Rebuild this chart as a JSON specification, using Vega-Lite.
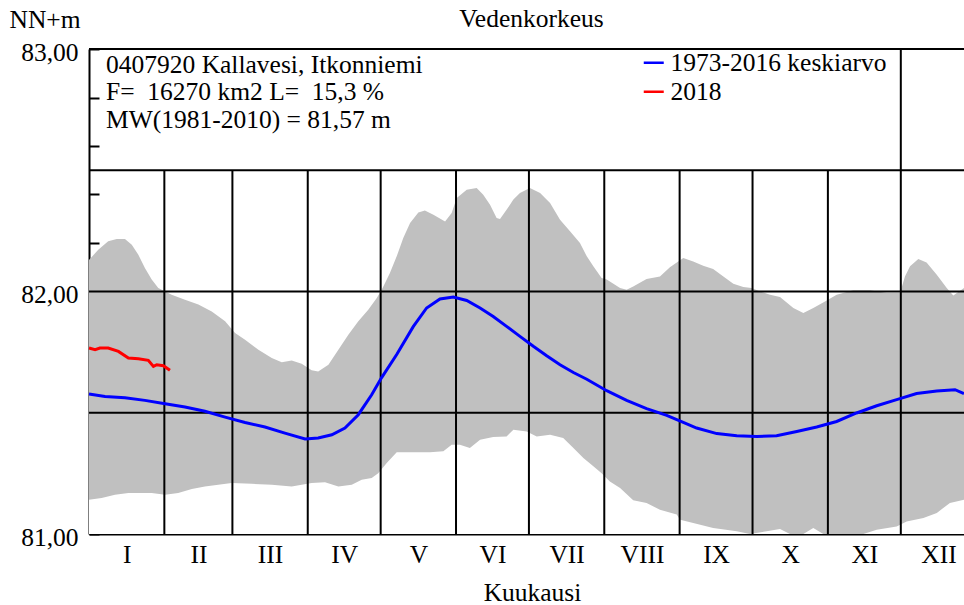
{
  "$schema": "https://vega.github.io/schema/vega-lite/v6.json",
  "width": 875,
  "height": 485,
  "autosize": {"type": "none"},
  "padding": {"left": 89, "top": 49, "right": 0, "bottom": 71},
  "background": "white",
  "config": {
    "view": {"stroke": null},
    "font": "Liberation Serif",
    "text": {"font": "Liberation Serif"}
  },
  "title": {
    "text": "Vedenkorkeus",
    "font": "Liberation Serif",
    "fontSize": 25.5,
    "fontWeight": "normal",
    "color": "black",
    "anchor": "middle",
    "baseline": "alphabetic",
    "offset": 0,
    "dx": 5,
    "dy": 45
  },
  "datasets": {
    "upper": [
      {"day": 0, "hi": 82.13}, {"day": 3.8, "hi": 82.172}, {"day": 7.9, "hi": 82.207}, {"day": 11.4, "hi": 82.216},
      {"day": 14.8, "hi": 82.216}, {"day": 17.6, "hi": 82.193}, {"day": 20.3, "hi": 82.152}, {"day": 23.0, "hi": 82.097},
      {"day": 25.8, "hi": 82.049}, {"day": 28.5, "hi": 82.014}, {"day": 31.3, "hi": 82.0}, {"day": 34.0, "hi": 81.987},
      {"day": 39.5, "hi": 81.966}, {"day": 45.0, "hi": 81.946}, {"day": 50.5, "hi": 81.918}, {"day": 56.0, "hi": 81.877},
      {"day": 60.1, "hi": 81.829}, {"day": 64.2, "hi": 81.801}, {"day": 69.7, "hi": 81.76}, {"day": 75.2, "hi": 81.726},
      {"day": 79.3, "hi": 81.708}, {"day": 83.4, "hi": 81.715}, {"day": 87.5, "hi": 81.702}, {"day": 91.6, "hi": 81.675},
      {"day": 94.3, "hi": 81.67}, {"day": 98.5, "hi": 81.698}, {"day": 102.6, "hi": 81.76}, {"day": 106.7, "hi": 81.822},
      {"day": 110.8, "hi": 81.877}, {"day": 114.9, "hi": 81.925}, {"day": 118.4, "hi": 81.973}, {"day": 120.4, "hi": 82.007},
      {"day": 121.1, "hi": 82.021}, {"day": 123.8, "hi": 82.076}, {"day": 126.6, "hi": 82.145}, {"day": 129.3, "hi": 82.221},
      {"day": 132.1, "hi": 82.282}, {"day": 135.5, "hi": 82.326}, {"day": 138.2, "hi": 82.334}, {"day": 141.7, "hi": 82.317},
      {"day": 146.5, "hi": 82.289}, {"day": 149.2, "hi": 82.324}, {"day": 151.3, "hi": 82.386}, {"day": 155.4, "hi": 82.42},
      {"day": 159.5, "hi": 82.427}, {"day": 162.2, "hi": 82.399}, {"day": 165.0, "hi": 82.358}, {"day": 167.7, "hi": 82.303},
      {"day": 169.1, "hi": 82.299}, {"day": 171.8, "hi": 82.337}, {"day": 174.6, "hi": 82.379}, {"day": 177.3, "hi": 82.406},
      {"day": 181.4, "hi": 82.427}, {"day": 185.6, "hi": 82.406}, {"day": 189.7, "hi": 82.365}, {"day": 193.8, "hi": 82.296},
      {"day": 197.9, "hi": 82.248}, {"day": 202.0, "hi": 82.2}, {"day": 204.8, "hi": 82.145}, {"day": 207.5, "hi": 82.104},
      {"day": 210.9, "hi": 82.056}, {"day": 213.0, "hi": 82.049}, {"day": 218.5, "hi": 82.014}, {"day": 221.2, "hi": 82.007},
      {"day": 223.9, "hi": 82.021}, {"day": 229.4, "hi": 82.052}, {"day": 234.9, "hi": 82.062}, {"day": 239.0, "hi": 82.1},
      {"day": 244.5, "hi": 82.138}, {"day": 248.6, "hi": 82.124}, {"day": 252.7, "hi": 82.106}, {"day": 256.8, "hi": 82.093},
      {"day": 261.0, "hi": 82.062}, {"day": 265.1, "hi": 82.032}, {"day": 269.2, "hi": 82.019}, {"day": 272.6, "hi": 82.014},
      {"day": 276.1, "hi": 82.0}, {"day": 280.2, "hi": 81.987}, {"day": 284.3, "hi": 81.977}, {"day": 289.8, "hi": 81.932},
      {"day": 293.9, "hi": 81.911}, {"day": 298.0, "hi": 81.932}, {"day": 302.8, "hi": 81.959}, {"day": 307.6, "hi": 81.987},
      {"day": 314.4, "hi": 82.005}, {"day": 321.3, "hi": 82.005}, {"day": 328.2, "hi": 81.994}, {"day": 333.7, "hi": 81.994},
      {"day": 335.7, "hi": 82.062}, {"day": 337.8, "hi": 82.104}, {"day": 341.2, "hi": 82.134}, {"day": 344.6, "hi": 82.12},
      {"day": 348.8, "hi": 82.069}, {"day": 352.9, "hi": 82.014}, {"day": 355.6, "hi": 81.983}, {"day": 360, "hi": 82.014}
    ],
    "lower": [
      {"day": 0, "lo": 81.141}, {"day": 5.2, "lo": 81.148}, {"day": 10.7, "lo": 81.162}, {"day": 16.2, "lo": 81.169},
      {"day": 25.8, "lo": 81.169}, {"day": 31.3, "lo": 81.162}, {"day": 36.7, "lo": 81.169}, {"day": 42.3, "lo": 81.186},
      {"day": 47.7, "lo": 81.196}, {"day": 53.2, "lo": 81.203}, {"day": 58.7, "lo": 81.21}, {"day": 66.9, "lo": 81.207},
      {"day": 75.2, "lo": 81.203}, {"day": 83.4, "lo": 81.196}, {"day": 91.6, "lo": 81.21}, {"day": 97.1, "lo": 81.213},
      {"day": 102.6, "lo": 81.196}, {"day": 108.1, "lo": 81.203}, {"day": 112.2, "lo": 81.224}, {"day": 116.3, "lo": 81.231},
      {"day": 119.0, "lo": 81.251}, {"day": 122.5, "lo": 81.293}, {"day": 126.6, "lo": 81.337}, {"day": 133.4, "lo": 81.337},
      {"day": 140.3, "lo": 81.337}, {"day": 145.8, "lo": 81.341}, {"day": 149.2, "lo": 81.368}, {"day": 152.6, "lo": 81.368},
      {"day": 156.7, "lo": 81.355}, {"day": 160.9, "lo": 81.389}, {"day": 166.3, "lo": 81.4}, {"day": 171.8, "lo": 81.402},
      {"day": 174.6, "lo": 81.43}, {"day": 180.1, "lo": 81.423}, {"day": 184.2, "lo": 81.402}, {"day": 189.7, "lo": 81.409},
      {"day": 195.1, "lo": 81.396}, {"day": 199.3, "lo": 81.355}, {"day": 203.4, "lo": 81.313}, {"day": 207.5, "lo": 81.279},
      {"day": 210.9, "lo": 81.251}, {"day": 214.3, "lo": 81.217}, {"day": 218.5, "lo": 81.19}, {"day": 223.9, "lo": 81.139},
      {"day": 229.4, "lo": 81.128}, {"day": 234.9, "lo": 81.1}, {"day": 241.8, "lo": 81.08}, {"day": 243.2, "lo": 81.059},
      {"day": 248.6, "lo": 81.045}, {"day": 256.8, "lo": 81.025}, {"day": 266.5, "lo": 81.011}, {"day": 271.9, "lo": 81.0},
      {"day": 278.8, "lo": 81.011}, {"day": 284.3, "lo": 81.021}, {"day": 288.4, "lo": 81.0}, {"day": 293.9, "lo": 81.0},
      {"day": 298.0, "lo": 81.025}, {"day": 302.1, "lo": 81.0}, {"day": 318.6, "lo": 81.0}, {"day": 324.1, "lo": 81.018},
      {"day": 332.3, "lo": 81.031}, {"day": 336.4, "lo": 81.052}, {"day": 343.3, "lo": 81.066}, {"day": 348.8, "lo": 81.087},
      {"day": 354.2, "lo": 81.128}, {"day": 360, "lo": 81.141}
    ],
    "series": [
      {"day": 0, "level": 81.577, "series": "1973-2016 keskiarvo"},
      {"day": 6.6, "level": 81.567, "series": "1973-2016 keskiarvo"},
      {"day": 14.8, "level": 81.562, "series": "1973-2016 keskiarvo"},
      {"day": 23.0, "level": 81.551, "series": "1973-2016 keskiarvo"},
      {"day": 31.3, "level": 81.537, "series": "1973-2016 keskiarvo"},
      {"day": 39.5, "level": 81.524, "series": "1973-2016 keskiarvo"},
      {"day": 47.7, "level": 81.506, "series": "1973-2016 keskiarvo"},
      {"day": 56.0, "level": 81.482, "series": "1973-2016 keskiarvo"},
      {"day": 64.2, "level": 81.46, "series": "1973-2016 keskiarvo"},
      {"day": 72.4, "level": 81.441, "series": "1973-2016 keskiarvo"},
      {"day": 80.6, "level": 81.416, "series": "1973-2016 keskiarvo"},
      {"day": 88.9, "level": 81.392, "series": "1973-2016 keskiarvo"},
      {"day": 94.3, "level": 81.396, "series": "1973-2016 keskiarvo"},
      {"day": 99.9, "level": 81.409, "series": "1973-2016 keskiarvo"},
      {"day": 105.3, "level": 81.437, "series": "1973-2016 keskiarvo"},
      {"day": 110.8, "level": 81.492, "series": "1973-2016 keskiarvo"},
      {"day": 116.3, "level": 81.574, "series": "1973-2016 keskiarvo"},
      {"day": 120.4, "level": 81.645, "series": "1973-2016 keskiarvo"},
      {"day": 126.6, "level": 81.74, "series": "1973-2016 keskiarvo"},
      {"day": 133.4, "level": 81.855, "series": "1973-2016 keskiarvo"},
      {"day": 138.9, "level": 81.932, "series": "1973-2016 keskiarvo"},
      {"day": 144.4, "level": 81.969, "series": "1973-2016 keskiarvo"},
      {"day": 149.9, "level": 81.977, "series": "1973-2016 keskiarvo"},
      {"day": 155.4, "level": 81.963, "series": "1973-2016 keskiarvo"},
      {"day": 160.9, "level": 81.932, "series": "1973-2016 keskiarvo"},
      {"day": 166.3, "level": 81.897, "series": "1973-2016 keskiarvo"},
      {"day": 171.8, "level": 81.856, "series": "1973-2016 keskiarvo"},
      {"day": 177.3, "level": 81.815, "series": "1973-2016 keskiarvo"},
      {"day": 182.8, "level": 81.774, "series": "1973-2016 keskiarvo"},
      {"day": 188.3, "level": 81.735, "series": "1973-2016 keskiarvo"},
      {"day": 193.8, "level": 81.698, "series": "1973-2016 keskiarvo"},
      {"day": 199.3, "level": 81.666, "series": "1973-2016 keskiarvo"},
      {"day": 204.8, "level": 81.638, "series": "1973-2016 keskiarvo"},
      {"day": 213.0, "level": 81.591, "series": "1973-2016 keskiarvo"},
      {"day": 221.2, "level": 81.551, "series": "1973-2016 keskiarvo"},
      {"day": 229.4, "level": 81.517, "series": "1973-2016 keskiarvo"},
      {"day": 237.7, "level": 81.489, "series": "1973-2016 keskiarvo"},
      {"day": 244.5, "level": 81.46, "series": "1973-2016 keskiarvo"},
      {"day": 250.0, "level": 81.437, "series": "1973-2016 keskiarvo"},
      {"day": 258.3, "level": 81.414, "series": "1973-2016 keskiarvo"},
      {"day": 266.5, "level": 81.405, "series": "1973-2016 keskiarvo"},
      {"day": 274.7, "level": 81.402, "series": "1973-2016 keskiarvo"},
      {"day": 282.9, "level": 81.405, "series": "1973-2016 keskiarvo"},
      {"day": 291.2, "level": 81.423, "series": "1973-2016 keskiarvo"},
      {"day": 299.4, "level": 81.441, "series": "1973-2016 keskiarvo"},
      {"day": 307.6, "level": 81.464, "series": "1973-2016 keskiarvo"},
      {"day": 315.8, "level": 81.499, "series": "1973-2016 keskiarvo"},
      {"day": 324.1, "level": 81.529, "series": "1973-2016 keskiarvo"},
      {"day": 332.3, "level": 81.554, "series": "1973-2016 keskiarvo"},
      {"day": 340.5, "level": 81.579, "series": "1973-2016 keskiarvo"},
      {"day": 348.8, "level": 81.59, "series": "1973-2016 keskiarvo"},
      {"day": 356.3, "level": 81.595, "series": "1973-2016 keskiarvo"},
      {"day": 360, "level": 81.579, "series": "1973-2016 keskiarvo"},
      {"day": 0, "level": 81.767, "series": "2018"},
      {"day": 2.5, "level": 81.76, "series": "2018"},
      {"day": 4.5, "level": 81.767, "series": "2018"},
      {"day": 7.9, "level": 81.767, "series": "2018"},
      {"day": 12.1, "level": 81.753, "series": "2018"},
      {"day": 16.2, "level": 81.726, "series": "2018"},
      {"day": 20.3, "level": 81.723, "series": "2018"},
      {"day": 24.4, "level": 81.716, "series": "2018"},
      {"day": 26.5, "level": 81.691, "series": "2018"},
      {"day": 27.9, "level": 81.698, "series": "2018"},
      {"day": 30.6, "level": 81.694, "series": "2018"},
      {"day": 33.3, "level": 81.675, "series": "2018"}
    ],
    "months": [
      {"day": 31, "top": 82.5}, {"day": 59, "top": 82.5}, {"day": 90, "top": 82.5}, {"day": 120, "top": 82.5},
      {"day": 151, "top": 82.5}, {"day": 181, "top": 82.5}, {"day": 212, "top": 82.5}, {"day": 243, "top": 82.5},
      {"day": 273, "top": 82.5}, {"day": 304, "top": 82.5}, {"day": 334, "top": 83}
    ],
    "levels": [{"level": 81.5}, {"level": 82}, {"level": 82.5}, {"level": 83}],
    "info": [
      {"label": "0407920 Kallavesi, Itkonniemi", "x": 7, "y": 82.902},
      {"label": "F=\u00a0 16270 km2 L=\u00a0 15,3 %", "x": 7, "y": 82.789},
      {"label": "MW(1981-2010) = 81,57 m", "x": 7, "y": 82.675}
    ]
  },
  "layer": [
    {
      "data": {"name": "upper"},
      "mark": {"type": "area", "color": "#c0c0c0", "opacity": 1},
      "encoding": {
        "x": {
          "field": "day",
          "type": "quantitative",
          "scale": {"domain": [0, 360], "nice": false, "zero": false},
          "axis": {
            "values": [15.5, 45, 74.5, 105, 135.5, 166, 196.5, 227.5, 258, 288.5, 319, 349.5],
            "labelExpr": "['I','II','III','IV','V','VI','VII','VIII','IX','X','XI','XII'][indexof([15.5,45,74.5,105,135.5,166,196.5,227.5,258,288.5,319,349.5], datum.value)]",
            "ticks": false,
            "grid": false,
            "domain": true,
            "domainColor": "black",
            "domainWidth": 2,
            "labelFont": "Liberation Serif",
            "labelFontSize": 25.5,
            "labelColor": "black",
            "labelAngle": 0,
            "labelAlign": "center",
            "labelBaseline": "alphabetic",
            "labelPadding": 28,
            "labelFlush": false,
            "labelOverlap": false,
            "labelBound": false,
            "title": "Kuukausi",
            "titleFont": "Liberation Serif",
            "titleFontSize": 25.5,
            "titleFontWeight": "normal",
            "titleColor": "black",
            "titleX": 443,
            "titleY": 66,
            "titleAlign": "center",
            "titleBaseline": "alphabetic"
          }
        },
        "y": {
          "field": "hi",
          "type": "quantitative",
          "scale": {"domain": [81, 83], "nice": false, "zero": false},
          "axis": {
            "values": [81, 81.1, 81.2, 81.3, 81.4, 81.5, 81.6, 81.7, 81.8, 81.9, 82, 82.1, 82.2, 82.3, 82.4, 82.5, 82.6, 82.7, 82.8, 82.9, 83],
            "labelExpr": "abs(datum.value*2 - round(datum.value*2)) < 0.01 ? replace(format(datum.value, '.2f'), '.', ',') : ''",
            "grid": false,
            "ticks": true,
            "tickSize": -10,
            "tickWidth": 2,
            "tickColor": "black",
            "domain": true,
            "domainColor": "black",
            "domainWidth": 2,
            "labelFont": "Liberation Serif",
            "labelFontSize": 25.5,
            "labelColor": "black",
            "labelAlign": "right",
            "labelBaseline": "alphabetic",
            "labelPadding": 21,
            "labelOffset": 11,
            "labelOverlap": false,
            "labelBound": false,
            "labelFlush": false,
            "title": "NN+m",
            "titleFont": "Liberation Serif",
            "titleFontSize": 25.5,
            "titleFontWeight": "normal",
            "titleColor": "black",
            "titleAngle": 0,
            "titleX": -80,
            "titleY": -22,
            "titleAlign": "left",
            "titleBaseline": "alphabetic"
          }
        },
        "y2": {"datum": 81}
      }
    },
    {
      "data": {"name": "lower"},
      "mark": {"type": "area", "color": "white", "opacity": 1},
      "encoding": {
        "x": {"field": "day", "type": "quantitative"},
        "y": {"field": "lo", "type": "quantitative"},
        "y2": {"datum": 81}
      }
    },
    {
      "data": {"name": "months"},
      "mark": {"type": "rule", "color": "black", "strokeWidth": 2},
      "encoding": {
        "x": {"field": "day", "type": "quantitative"},
        "y": {"field": "top", "type": "quantitative"},
        "y2": {"datum": 81}
      }
    },
    {
      "data": {"name": "levels"},
      "mark": {"type": "rule", "color": "black", "strokeWidth": 2},
      "encoding": {
        "y": {"field": "level", "type": "quantitative"}
      }
    },
    {
      "data": {"name": "series"},
      "mark": {"type": "line", "strokeWidth": 3},
      "encoding": {
        "x": {"field": "day", "type": "quantitative"},
        "y": {"field": "level", "type": "quantitative"},
        "color": {
          "field": "series",
          "type": "nominal",
          "scale": {"domain": ["1973-2016 keskiarvo", "2018"], "range": ["#0000ff", "#ff0000"]},
          "legend": {
            "orient": "none",
            "legendX": 552,
            "legendY": 1,
            "title": null,
            "padding": 0,
            "symbolType": "stroke",
            "symbolSize": 400,
            "symbolStrokeWidth": 2.5,
            "labelFont": "Liberation Serif",
            "labelFontSize": 25.5,
            "labelColor": "black",
            "labelOffset": 4,
            "labelLimit": 500,
            "labelBaseline": "middle",
            "rowPadding": 2
          }
        }
      }
    },
    {
      "data": {"name": "info"},
      "mark": {"type": "text", "align": "left", "baseline": "alphabetic", "fontSize": 25.5, "font": "Liberation Serif", "color": "black"},
      "encoding": {
        "x": {"field": "x", "type": "quantitative"},
        "y": {"field": "y", "type": "quantitative"},
        "text": {"field": "label", "type": "nominal"}
      }
    }
  ]
}
